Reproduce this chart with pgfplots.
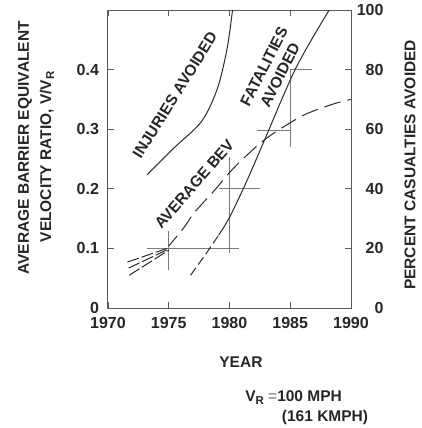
\documentclass[border=0pt]{standalone}
\usepackage{fontspec}
\setmainfont{Liberation Sans}
\usepackage{pgfplots}
\pgfplotsset{compat=1.18}

\definecolor{curve}{HTML}{2A2A2A}
\definecolor{bars}{HTML}{7A7A7A}
\definecolor{frame}{HTML}{5A5A5A}

\newcommand{\lab}{\bfseries\fontsize{15.5}{18}\selectfont}
\newcommand{\sub}[1]{\raisebox{-3pt}{\fontsize{11.5}{11.5}\selectfont #1}}

\begin{document}
\begin{tikzpicture}
\path[use as bounding box] (-108pt,-120pt) rectangle (313pt,308pt);
\begin{axis}[
  scale only axis,
  width=243pt, height=298pt,
  xmin=1970, xmax=1990,
  ymin=0, ymax=0.5,
  xtick={1970,1975,...,1990},
  ytick={0,0.1,0.2,0.3,0.4},
  yticklabels={0,0.1,0.2,0.3,0.4},
  xtick pos=both, xticklabel pos=bottom,
  ytick pos=left,
  tick align=inside,
  major tick length=6pt,
  tick style={frame, line width=0.7pt},
  axis line style={frame, line width=1pt},
  /pgf/number format/1000 sep={},
  /pgf/number format/assume math mode=true,
  tick label style={font=\bfseries\fontsize{16}{19}\selectfont, text=black!85},
  xticklabel style={yshift=-5.5pt},
  yticklabel style={xshift=-5.5pt},
  clip mode=individual,
]
% range markers
\addplot[bars, line width=0.7pt] coordinates {(1973.2,0.1)(1980.8,0.1)};
\addplot[bars, line width=0.7pt] coordinates {(1975,0.063)(1975,0.13)};
\addplot[bars, line width=0.7pt] coordinates {(1980,0.092)(1980,0.254)};
\addplot[bars, line width=0.7pt] coordinates {(1979.1,0.2)(1982.5,0.2)};
\addplot[bars, line width=0.7pt] coordinates {(1982.25,0.298)(1985,0.298)};
\addplot[bars, line width=0.7pt] coordinates {(1985,0.27)(1985,0.40)};
\addplot[bars, line width=0.7pt] coordinates {(1985.0,0.40)(1986.75,0.40)};

% injuries avoided
\addplot[curve, line width=1pt, smooth] coordinates {
  (1973.2,0.223)(1975.4,0.268)(1977.7,0.313)(1979.0,0.368)(1979.8,0.435)(1980.25,0.5)
};
% fatalities avoided, dashed start
\addplot[curve, line width=1pt, dash pattern=on 9pt off 4pt] coordinates {
  (1976.8,0.055)(1978.2,0.095)(1979.1,0.122)
};
% fatalities avoided
\addplot[curve, line width=1pt, smooth] coordinates {
  (1979.1,0.122)(1980.0,0.152)(1981.4,0.212)(1983.2,0.297)(1984.3,0.35)(1985.4,0.40)(1986.6,0.445)(1988.2,0.5)
};
% average BEV
\addplot[curve, line width=1pt, smooth, dash pattern=on 17pt off 7pt, dash phase=4pt] coordinates {
  (1975.0,0.104)(1976.25,0.135)(1977.1,0.160)(1978.75,0.197)(1979.9,0.225)(1981.2,0.252)
  (1982.8,0.281)(1984.3,0.302)(1986.25,0.325)(1988.5,0.342)(1990,0.35)
};
% extrapolations before 1975
\addplot[curve, line width=1pt, dash pattern=on 12pt off 3pt] coordinates {(1971.6,0.077)(1975.0,0.101)};
\addplot[curve, line width=1pt, dash pattern=on 12pt off 3pt] coordinates {(1971.7,0.067)(1975.0,0.099)};
\addplot[curve, line width=1pt, dash pattern=on 12pt off 3pt] coordinates {(1971.75,0.055)(1975.0,0.097)};

% curve labels
\node[rotate=58, font=\lab, text=black!85] at (axis cs:1975.5,0.357) {INJURIES AVOIDED};
\node[rotate=49, font=\lab, text=black!85] at (axis cs:1977.1,0.208) {AVERAGE BEV};
\node[rotate=63, font=\lab, text=black!85, align=center, inner sep=0pt] at (axis cs:1983.5,0.398) {FATALITIES\\AVOIDED};

% axis titles and note
\node[rotate=90, font=\lab, text=black!85] at (axis description cs:-0.3416,0.537) {AVERAGE BARRIER EQUIVALENT};
\node[rotate=90, font=\lab, text=black!85] at (axis description cs:-0.251,0.507) {VELOCITY RATIO, V/V\sub{R}};
\node[rotate=90, font=\lab, text=black!85, inner sep=1pt] at (axis description cs:1.243,0.48) {PERCENT CASUALTIES AVOIDED};
\node[font=\lab, text=black!85] at (axis description cs:0.547,-0.182) {YEAR};
\node[font=\lab, text=black!85, anchor=west, inner sep=0pt] at (axis description cs:0.564,-0.302) {V\sub{R} {\color{black!40}=}100 MPH};
\node[font=\lab, text=black!85, anchor=west, inner sep=0pt] at (axis description cs:0.715,-0.366) {(161 KMPH)};
\end{axis}

\begin{axis}[
  scale only axis,
  width=243pt, height=298pt,
  xmin=1970, xmax=1990,
  ymin=0, ymax=100,
  axis x line=none,
  axis y line*=right,
  ytick={0,20,...,100},
  tick align=inside,
  major tick length=6pt,
  tick style={frame, line width=0.7pt},
  axis line style={frame, line width=1pt},
  /pgf/number format/assume math mode=true,
  tick label style={font=\bfseries\fontsize{16}{19}\selectfont, text=black!85},
  yticklabel style={anchor=east, xshift=36pt},
]
\end{axis}
\end{tikzpicture}
\end{document}
